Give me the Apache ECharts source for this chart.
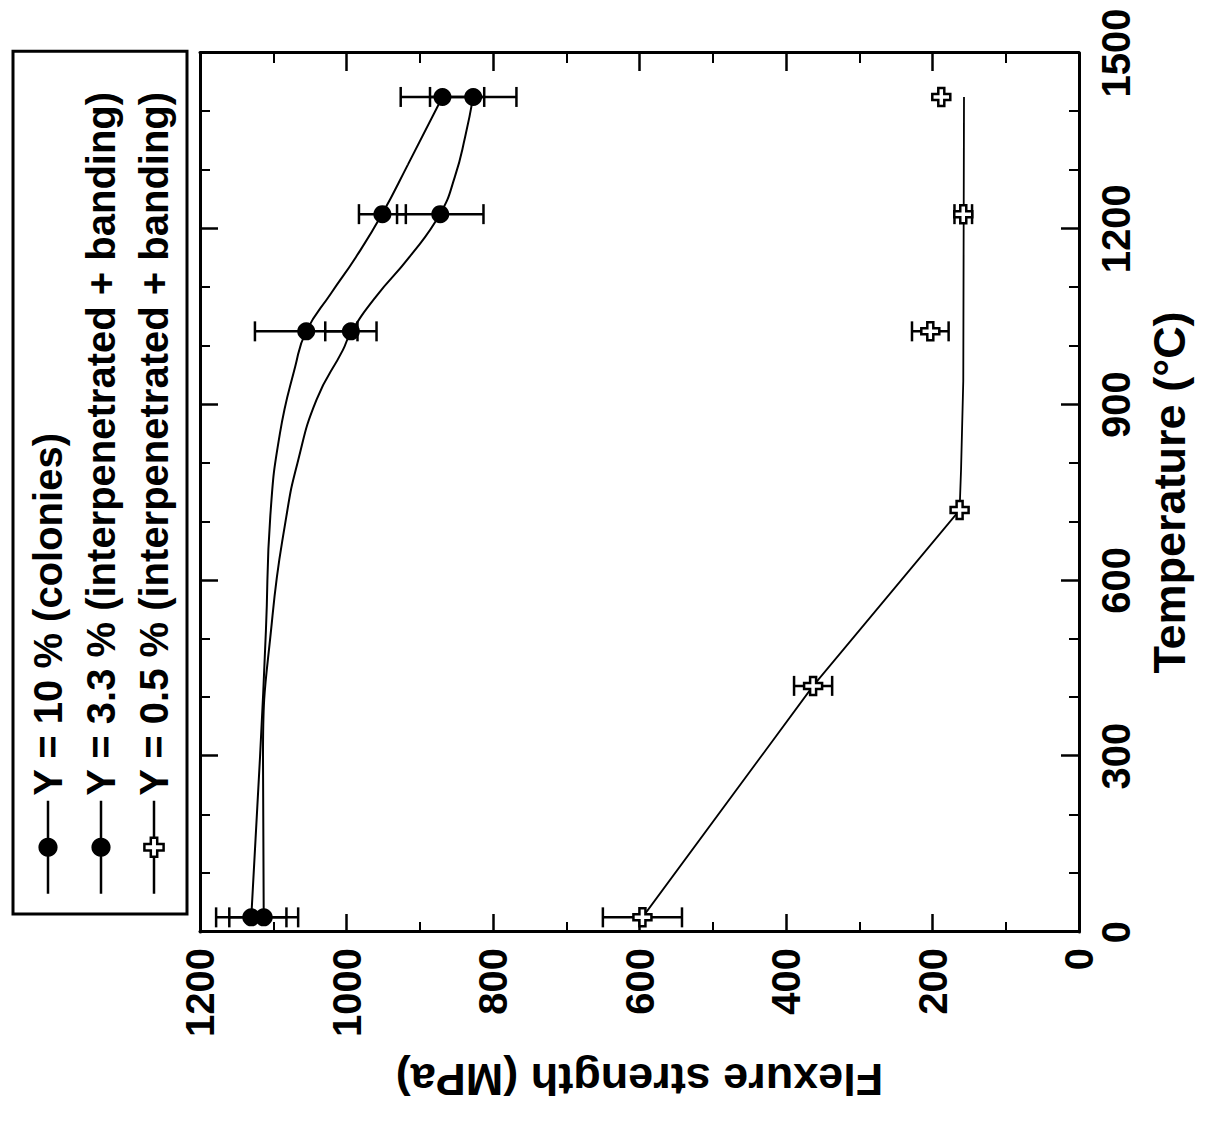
<!DOCTYPE html>
<html>
<head>
<meta charset="utf-8">
<script src="https://cdn.jsdelivr.net/npm/echarts@6/dist/echarts.min.js"></script>
<style>
html,body{margin:0;padding:0;width:1209px;height:1132px;overflow:hidden;background:#fff;}
#wrap{position:absolute;left:0;top:0;width:1132px;height:1209px;transform-origin:0 0;transform:translate(0,1132px) rotate(-90deg);}
</style>
</head>
<body>
<div id="wrap"></div>
<script>
// ---------- data ----------
const seriesNames = [
  'Y = 10 % (colonies)',
  'Y = 3.3 % (interpenetrated + banding)',
  'Y = 0.5 % (interpenetrated + banding)'
];

// measured points (temperature °C, flexure strength MPa, error MPa)
const tempFilled = [25, 1025, 1225, 1425];
const strength10 = [1130, 1055, 951, 869];
const error10 = [48, 70, 32, 57];
const strength33 = [1113, 994, 872, 827];
const error33 = [47, 35, 59, 59];

const temp05 = [25, 420, 720, 1025, 1225, 1425];
const strength05 = [596, 363, 163, 203, 158, 188];
const error05 = [54, 26, 0, 25, 12, 0];

// fitted curves
const fitTemp10 = [25, 300, 515, 710, 850, 965, 1025, 1090, 1152, 1226, 1310, 1425];
const fitStrength10 = [1130, 1118, 1110, 1104, 1091, 1070, 1055, 1021, 987, 951, 916, 869];

const fitTemp33 = [25, 300, 540, 710, 800, 908, 993, 1023, 1084, 1152, 1226, 1289, 1357, 1425];
const fitStrength33 = [1113, 1114, 1101, 1082, 1067, 1041, 1005, 994, 960, 914, 872, 852, 838, 827];

const fitTemp05 = [25, 420, 720, 790, 940, 1425];
const fitStrength05 = [596, 363, 163, 161, 158, 157];

// axes
const tempMin = 0, tempMax = 1500, tempStep = 300;
const strMin = 0, strMax = 1200, strStep = 200;

// ---------- helpers ----------
const zip = (a, b) => a.map((v, i) => [v, b[i]]);
const errData = (t, s, e) => t.map((v, i) => [v, s[i] - e[i], s[i] + e[i], e[i]]).filter(d => d[3] > 0);
const FONT = "'Liberation Sans', Arial, sans-serif";
const PLUS = 'path://M4,0H8V4H12V8H8V12H4V8H0V4H4Z';
const plain = v => String(v);

const axisLineStyle = {show: true, onZero: false, lineStyle: {color: '#000', width: 3}};
const tickStyle = {show: true, inside: true, length: 18, lineStyle: {color: '#000', width: 2.5}};

function minor(n) {
  return {show: true, splitNumber: n, length: 10, lineStyle: {color: '#000', width: 2}};
}

const errorRender = (params, api) => {
  const t = api.value(0);
  const lo = api.coord([t, api.value(1)]);
  const hi = api.coord([t, api.value(2)]);
  const hw = 10;
  const st = {stroke: '#000', lineWidth: 2.5};
  return {
    type: 'group',
    children: [
      {type: 'line', shape: {x1: lo[0], y1: lo[1], x2: hi[0], y2: hi[1]}, style: st},
      {type: 'line', shape: {x1: lo[0] - hw, y1: lo[1], x2: lo[0] + hw, y2: lo[1]}, style: st},
      {type: 'line', shape: {x1: hi[0] - hw, y1: hi[1], x2: hi[0] + hw, y2: hi[1]}, style: st}
    ]
  };
};

const chart = echarts.init(document.getElementById('wrap'), null, {renderer: 'svg', width: 1132, height: 1209});

chart.setOption({
  animation: false,
  backgroundColor: '#fff',
  textStyle: {fontFamily: FONT, color: '#000'},
  grid: {left: 200, right: 53, top: 200, bottom: 130, outerBoundsMode: 'none', containLabel: false},
  legend: {
    orient: 'vertical',
    left: 218,
    top: 13,
    data: [
      {name: seriesNames[0]},
      {name: seriesNames[1]},
      {name: seriesNames[2], itemStyle: {color: '#fff', borderColor: '#000', borderWidth: 2.5}}
    ],
    itemWidth: 93,
    itemHeight: 24,
    itemGap: 13,
    padding: [15, 40, 13, 19],
    borderColor: '#000',
    borderWidth: 3,
    backgroundColor: '#fff',
    selectedMode: false,
    lineStyle: {width: 2.5, color: '#000'},
    textStyle: {fontSize: 40, fontWeight: 'bold', color: '#000', fontFamily: FONT, lineHeight: 40}
  },
  xAxis: [
    {
      type: 'value', position: 'bottom', min: tempMin, max: tempMax, interval: tempStep,
      axisLine: axisLineStyle, axisTick: tickStyle, minorTick: minor(3),
      splitLine: {show: false},
      axisLabel: {fontSize: 40, fontWeight: 'bold', color: '#000', margin: 17, fontFamily: FONT, formatter: plain},
      name: 'Temperature (°C)', nameLocation: 'middle', nameGap: 68,
      nameTextStyle: {fontSize: 45, fontWeight: 'bold', color: '#000', fontFamily: FONT}
    },
    {
      type: 'value', position: 'top', min: tempMin, max: tempMax, interval: tempStep,
      axisLine: axisLineStyle, axisTick: tickStyle, minorTick: minor(3),
      splitLine: {show: false}, axisLabel: {show: false}
    }
  ],
  yAxis: [
    {
      type: 'value', position: 'left', min: strMin, max: strMax, interval: strStep,
      axisLine: axisLineStyle, axisTick: tickStyle, minorTick: minor(2),
      splitLine: {show: false},
      axisLabel: {fontSize: 40, fontWeight: 'bold', color: '#000', margin: 16, fontFamily: FONT, formatter: plain},
      name: 'Flexure strength (MPa)', nameLocation: 'middle', nameGap: 125,
      nameTextStyle: {fontSize: 45, fontWeight: 'bold', color: '#000', fontFamily: FONT}
    },
    {
      type: 'value', position: 'right', min: strMin, max: strMax, interval: strStep,
      axisLine: axisLineStyle, axisTick: tickStyle, minorTick: minor(2),
      splitLine: {show: false}, axisLabel: {show: false}
    }
  ],
  series: [
    {
      name: seriesNames[0], type: 'line', data: zip(fitTemp10, fitStrength10),
      smooth: 0.5, symbol: 'circle', showSymbol: false,
      lineStyle: {color: '#000', width: 2}, itemStyle: {color: '#000', opacity: 1}, z: 2
    },
    {
      name: seriesNames[1], type: 'line', data: zip(fitTemp33, fitStrength33),
      smooth: 0.5, symbol: 'circle', showSymbol: false,
      lineStyle: {color: '#000', width: 2}, itemStyle: {color: '#000', opacity: 1}, z: 2
    },
    {
      name: seriesNames[2], type: 'line', data: zip(fitTemp05, fitStrength05),
      symbol: PLUS, showSymbol: false,
      lineStyle: {color: '#000', width: 1.8}, itemStyle: {color: '#fff', borderColor: '#000', borderWidth: 2.5, opacity: 1}, z: 2
    },
    {type: 'custom', renderItem: errorRender, data: errData(tempFilled, strength10, error10), encode: {x: 0, y: [1, 2]}, z: 3},
    {type: 'custom', renderItem: errorRender, data: errData(tempFilled, strength33, error33), encode: {x: 0, y: [1, 2]}, z: 3},
    {type: 'custom', renderItem: errorRender, data: errData(temp05, strength05, error05), encode: {x: 0, y: [1, 2]}, z: 3},
    {type: 'scatter', data: zip(tempFilled, strength10), symbol: 'circle', symbolSize: 18, itemStyle: {color: '#000', opacity: 1}, z: 5},
    {type: 'scatter', data: zip(tempFilled, strength33), symbol: 'circle', symbolSize: 18, itemStyle: {color: '#000', opacity: 1}, z: 5},
    {type: 'scatter', data: zip(temp05, strength05), symbol: PLUS, symbolSize: 18, itemStyle: {color: '#fff', borderColor: '#000', borderWidth: 2.5, opacity: 1}, z: 5}
  ]
});
</script>
</body>
</html>
